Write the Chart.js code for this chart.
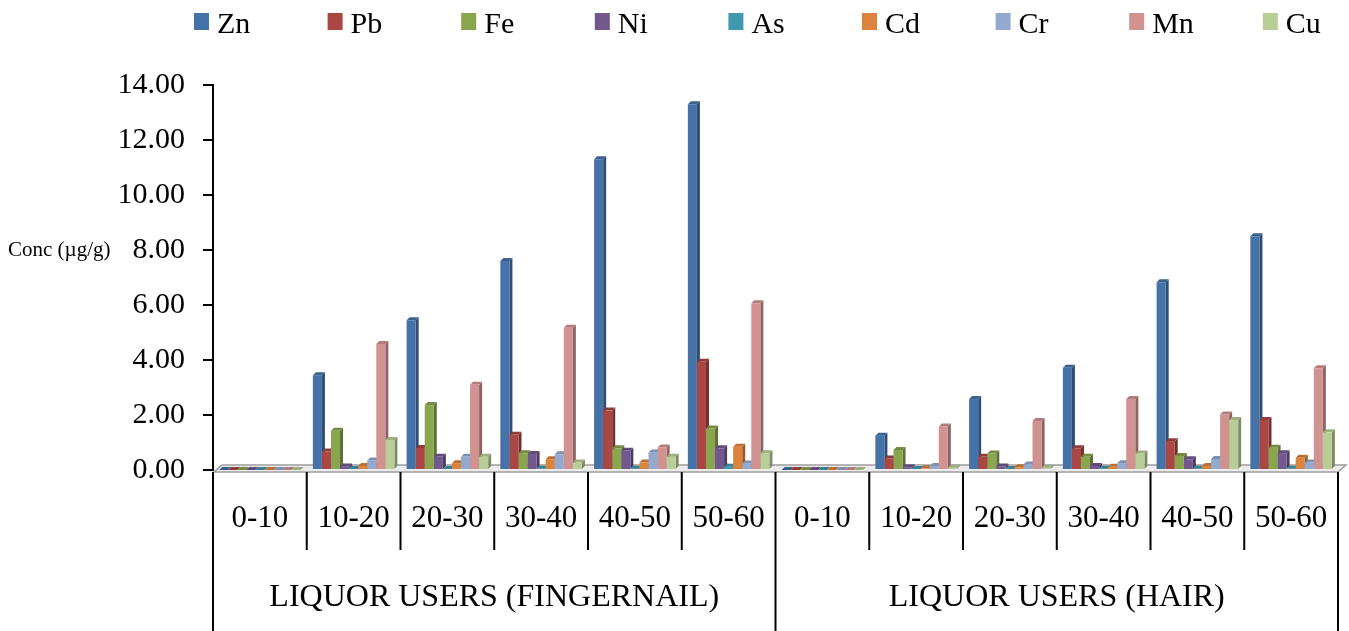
<!DOCTYPE html>
<html>
<head>
<meta charset="utf-8">
<script src="https://cdn.jsdelivr.net/npm/chart.js@4.4.1/dist/chart.umd.min.js"></script>
<style>
  html, body { margin: 0; padding: 0; background: #ffffff; }
  #wrap { width: 1349px; height: 631px; position: relative; }
</style>
</head>
<body>
<div id="wrap"><canvas id="chart" width="1349" height="631"></canvas></div>
<script>
// Age bands (years) shown under each sample type
const ageBands = ['0-10', '10-20', '20-30', '30-40', '40-50', '50-60'];
const sampleTypes = ['LIQUOR USERS (FINGERNAIL)', 'LIQUOR USERS (HAIR)'];
const yTicks = [0, 2, 4, 6, 8, 10, 12, 14];
const yTitle = 'Conc (µg/g)';

// Metal concentrations: first six = fingernail, last six = hair
const metals = ['Zn', 'Pb', 'Fe', 'Ni', 'As', 'Cd', 'Cr', 'Mn', 'Cu'];
const zn = [0, 3.45, 5.45, 7.60, 11.30, 13.30, 0, 1.25, 2.58, 3.72, 6.83, 8.50];
const pb = [0, 0.67, 0.80, 1.28, 2.16, 3.94, 0, 0.42, 0.48, 0.79, 1.05, 1.82];
const fe = [0, 1.43, 2.36, 0.61, 0.79, 1.51, 0, 0.73, 0.60, 0.48, 0.51, 0.81];
const ni = [0, 0.13, 0.48, 0.58, 0.70, 0.79, 0, 0.10, 0.13, 0.15, 0.39, 0.61];
const as = [0, 0.04, 0.04, 0.05, 0.05, 0.12, 0, 0.04, 0.04, 0.05, 0.05, 0.05];
const cd = [0, 0.15, 0.25, 0.39, 0.27, 0.85, 0, 0.06, 0.10, 0.12, 0.15, 0.45];
const cr = [0, 0.35, 0.48, 0.57, 0.64, 0.24, 0, 0.15, 0.20, 0.25, 0.40, 0.27];
const mn = [0, 4.58, 3.10, 5.17, 0.82, 6.06, 0, 1.58, 1.78, 2.58, 2.02, 3.70];
const cu = [0, 1.09, 0.48, 0.27, 0.48, 0.61, 0, 0.08, 0.08, 0.60, 1.82, 1.37];

const seriesValues = [zn, pb, fe, ni, as, cd, cr, mn, cu];
const seriesColors = ['#4572A7', '#AA4643', '#89A54E', '#71588F', '#4198AF',
                      '#DB843D', '#93A9CF', '#D19392', '#B9CD96'];

const FONT = '"Liberation Serif", "Times New Roman", serif';
const DX = 3, DY = 3;   // depth offset of the pseudo-3D bars

function shade(hex, f) {
  const n = parseInt(hex.slice(1), 16);
  const r = Math.round(((n >> 16) & 255) * f);
  const g = Math.round(((n >> 8) & 255) * f);
  const b = Math.round((n & 255) * f);
  return `rgb(${r},${g},${b})`;
}

// Floor slab plus the side and top faces of each bar, painted underneath the bar fronts
const depthFaces = {
  id: 'depthFaces',
  beforeDatasetsDraw(chart) {
    const ctx = chart.ctx;
    const { left, right, bottom } = chart.chartArea;
    ctx.save();
    ctx.beginPath();
    ctx.moveTo(left + 1, bottom + 2);
    ctx.lineTo(right, bottom + 2);
    ctx.lineTo(right + 8, bottom - 5);
    ctx.lineTo(left + 9, bottom - 5);
    ctx.closePath();
    ctx.fillStyle = '#ececec';
    ctx.fill();
    ctx.strokeStyle = '#9d9d9d';
    ctx.lineWidth = 1.5;
    ctx.stroke();

    chart.data.datasets.forEach((ds, i) => {
      const meta = chart.getDatasetMeta(i);
      meta.data.forEach(bar => {
        const p = bar.getProps(['x', 'y', 'base', 'width'], true);
        const l = p.x - p.width / 2, r = p.x + p.width / 2;
        ctx.fillStyle = shade(ds.backgroundColor, 0.68);
        ctx.beginPath();
        ctx.moveTo(r, p.y);
        ctx.lineTo(r + DX, p.y - DY);
        ctx.lineTo(r + DX, p.base - DY);
        ctx.lineTo(r, p.base);
        ctx.closePath();
        ctx.fill();
        ctx.fillStyle = shade(ds.backgroundColor, 0.85);
        ctx.beginPath();
        ctx.moveTo(l, p.y);
        ctx.lineTo(l + DX, p.y - DY);
        ctx.lineTo(r + DX, p.y - DY);
        ctx.lineTo(r, p.y);
        ctx.closePath();
        ctx.fill();
      });
    });
    ctx.restore();
  }
};

// Legend row, axis caption, category dividers and sample-type labels
const decorations = {
  id: 'decorations',
  afterDraw(chart) {
    const ctx = chart.ctx;
    const xs = chart.scales.x;
    const area = chart.chartArea;
    ctx.save();

    // legend
    ctx.font = `30px ${FONT}`;
    ctx.textBaseline = 'alphabetic';
    ctx.textAlign = 'left';
    chart.data.datasets.forEach((ds, i) => {
      const x0 = 194 + i * 133.6;
      ctx.fillStyle = ds.backgroundColor;
      ctx.fillRect(x0, 13, 15, 17);
      ctx.fillStyle = '#000';
      ctx.fillText(ds.label, x0 + 23, 33);
    });

    // value axis caption
    ctx.font = `21px ${FONT}`;
    ctx.textBaseline = 'middle';
    ctx.fillText(yTitle, 8, chart.scales.y.getPixelForValue(8));

    // category dividers
    const n = chart.data.labels.length;
    const per = ageBands.length;
    ctx.strokeStyle = '#000';
    ctx.lineWidth = 2;
    for (let i = 0; i <= n; i++) {
      let px;
      if (i === 0) px = xs.left;
      else if (i === n) px = xs.right;
      else px = (xs.getPixelForValue(i - 1) + xs.getPixelForValue(i)) / 2;
      const full = i % per === 0;
      ctx.beginPath();
      ctx.moveTo(px, area.bottom + 2);
      ctx.lineTo(px, full ? chart.height : area.bottom + 80);
      ctx.stroke();
    }

    // sample-type labels
    ctx.font = `32px ${FONT}`;
    ctx.textAlign = 'center';
    ctx.textBaseline = 'middle';
    sampleTypes.forEach((name, g) => {
      const a = xs.getPixelForValue(g * per);
      const b = xs.getPixelForValue(g * per + per - 1);
      ctx.fillText(name, (a + b) / 2, 598);
    });
    ctx.restore();
  }
};

const labels = sampleTypes.flatMap(() => ageBands);

new Chart(document.getElementById('chart'), {
  type: 'bar',
  data: {
    labels: labels,
    datasets: metals.map((m, i) => ({
      label: m,
      data: seriesValues[i],
      backgroundColor: seriesColors[i],
      borderWidth: 0,
      categoryPercentage: 0.87,
      barPercentage: 1.0
    }))
  },
  options: {
    responsive: false,
    animation: false,
    devicePixelRatio: 1,
    layout: { padding: { top: 85, right: 11, left: 0, bottom: 0 } },
    plugins: { legend: { display: false }, tooltip: { enabled: false } },
    scales: {
      x: {
        grid: { display: false },
        border: { display: false },
        ticks: {
          color: '#000',
          font: { family: FONT, size: 31 },
          padding: 22,
          maxRotation: 0,
          autoSkip: false
        },
        afterFit(scale) {
          scale.height = 161;
          scale.paddingLeft = 0;
          scale.paddingRight = 0;
        }
      },
      y: {
        min: 0,
        max: 14,
        afterBuildTicks(scale) { scale.ticks = yTicks.map(v => ({ value: v })); },
        ticks: {
          color: '#000',
          font: { family: FONT, size: 30 },
          padding: 18,
          callback: v => Number(v).toFixed(2)
        },
        grid: { drawOnChartArea: false, drawTicks: true, tickLength: 10, color: '#000', lineWidth: 2 },
        border: { color: '#000', width: 2 },
        afterFit(scale) { scale.width = 213; }
      }
    }
  },
  plugins: [depthFaces, decorations]
});
</script>
</body>
</html>
